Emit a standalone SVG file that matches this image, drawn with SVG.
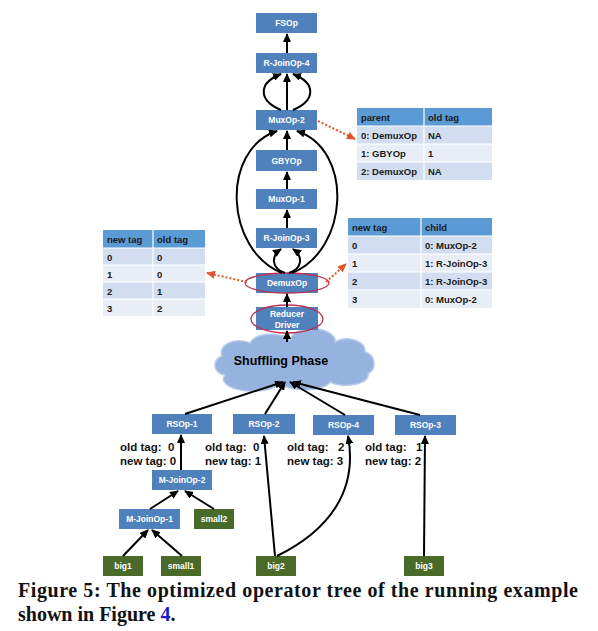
<svg xmlns="http://www.w3.org/2000/svg" width="598" height="631" viewBox="0 0 598 631">
<defs>
<marker id="arr" markerUnits="userSpaceOnUse" markerWidth="9" markerHeight="8" refX="8" refY="4" orient="auto"><path d="M0,0 L9,4 L0,8 z" fill="#000"/></marker>
<marker id="rarr" markerUnits="userSpaceOnUse" markerWidth="9" markerHeight="8" refX="8" refY="4" orient="auto"><path d="M0,0 L9,4 L0,8 z" fill="#e0542a"/></marker>
<style>
.b rect{fill:#4f81bd}
.g rect{fill:#4a6a2a}
.lbl{font-family:"Liberation Sans",Arial,sans-serif;font-weight:bold;font-size:8.5px;fill:#fff;text-anchor:middle}
.c path,.c line{fill:none;stroke:#000;stroke-width:2;marker-end:url(#arr)}
.r path,.r line{fill:none;stroke:#e0542a;stroke-width:2;stroke-dasharray:2,2;marker-end:url(#rarr)}
.hl{fill:none;stroke:#c0304f;stroke-width:1.3}
.tt{font-family:"Liberation Sans",Arial,sans-serif;font-weight:bold;font-size:9.5px;fill:#1a1a1a}
.th{fill:#5b9bd5}
.r1{fill:#d2deef}
.r2{fill:#e9eef6}
.tl{stroke:#fff;stroke-width:1.2}
.tag{font-family:"Liberation Sans",Arial,sans-serif;font-weight:bold;font-size:11.5px;fill:#111;white-space:pre}
.cap{font-family:"Liberation Serif","Times New Roman",serif;font-weight:bold;font-size:20px;fill:#111}
</style>
</defs>
<rect width="598" height="631" fill="#fff"/>

<!-- cloud -->
<g id="shuffle">
<path d="M225,375 A12,10 0 0 1 222,356 A18,12 0 0 1 250,343 A22,12 0 0 1 290,340 A22,12 0 0 1 335,342 A18,12 0 0 1 365,352 A12,12 0 0 1 368,374 A22,10 0 0 1 330,382 A26,10 0 0 1 280,383 A24,10 0 0 1 225,375 Z" fill="#95b3de" stroke="#b7cbe9" stroke-width="1.5"/>
<text x="281" y="365" font-family="Liberation Sans,Arial,sans-serif" font-weight="bold" font-size="12.5" fill="#000" text-anchor="middle">Shuffling Phase</text>
</g>

<!-- tables -->
<g id="table-mux">
<rect x="357" y="108" width="135" height="18" class="th"/>
<rect x="357" y="126" width="135" height="18" class="r1"/>
<rect x="357" y="144" width="135" height="18" class="r2"/>
<rect x="357" y="162" width="135" height="18" class="r1"/>
<line x1="424" y1="108" x2="424" y2="180" class="tl"/>
<line x1="357" y1="126" x2="492" y2="126" class="tl"/>
<line x1="357" y1="144" x2="492" y2="144" class="tl"/>
<line x1="357" y1="162" x2="492" y2="162" class="tl"/>
<text class="tt" x="361" y="121">parent</text><text class="tt" x="428" y="121">old tag</text>
<text class="tt" x="361" y="139">0: DemuxOp</text><text class="tt" x="428" y="139">NA</text>
<text class="tt" x="361" y="157">1: GBYOp</text><text class="tt" x="428" y="157">1</text>
<text class="tt" x="361" y="175">2: DemuxOp</text><text class="tt" x="428" y="175">NA</text>
</g>

<g id="table-child">
<rect x="348" y="218" width="144" height="18" class="th"/>
<rect x="348" y="236" width="144" height="18" class="r1"/>
<rect x="348" y="254" width="144" height="18" class="r2"/>
<rect x="348" y="272" width="144" height="18" class="r1"/>
<rect x="348" y="290" width="144" height="18" class="r2"/>
<line x1="421" y1="218" x2="421" y2="308" class="tl"/>
<line x1="348" y1="236" x2="492" y2="236" class="tl"/>
<line x1="348" y1="254" x2="492" y2="254" class="tl"/>
<line x1="348" y1="272" x2="492" y2="272" class="tl"/>
<line x1="348" y1="290" x2="492" y2="290" class="tl"/>
<text class="tt" x="352" y="231">new tag</text><text class="tt" x="425" y="231">child</text>
<text class="tt" x="352" y="249">0</text><text class="tt" x="425" y="249">0: MuxOp-2</text>
<text class="tt" x="352" y="267">1</text><text class="tt" x="425" y="267">1: R-JoinOp-3</text>
<text class="tt" x="352" y="285">2</text><text class="tt" x="425" y="285">1: R-JoinOp-3</text>
<text class="tt" x="352" y="303">3</text><text class="tt" x="425" y="303">0: MuxOp-2</text>
</g>

<g id="table-tag">
<rect x="103" y="230" width="102" height="18" class="th"/>
<rect x="103" y="248" width="102" height="17" class="r1"/>
<rect x="103" y="265" width="102" height="17" class="r2"/>
<rect x="103" y="282" width="102" height="17" class="r1"/>
<rect x="103" y="299" width="102" height="17" class="r2"/>
<line x1="153" y1="230" x2="153" y2="316" class="tl"/>
<line x1="103" y1="248" x2="205" y2="248" class="tl"/>
<line x1="103" y1="265" x2="205" y2="265" class="tl"/>
<line x1="103" y1="282" x2="205" y2="282" class="tl"/>
<line x1="103" y1="299" x2="205" y2="299" class="tl"/>
<text class="tt" x="107" y="243">new tag</text><text class="tt" x="157" y="243">old tag</text>
<text class="tt" x="107" y="261">0</text><text class="tt" x="157" y="261">0</text>
<text class="tt" x="107" y="278">1</text><text class="tt" x="157" y="278">0</text>
<text class="tt" x="107" y="295">2</text><text class="tt" x="157" y="295">1</text>
<text class="tt" x="107" y="312">3</text><text class="tt" x="157" y="312">2</text>
</g>

<!-- nodes -->
<g id="fsop" class="b"><rect x="256" y="13" width="61" height="20"/><text class="lbl" x="286.5" y="26">FSOp</text></g>
<g id="rjoin4" class="b"><rect x="256" y="53" width="61" height="20"/><text class="lbl" x="286.5" y="66">R-JoinOp-4</text></g>
<g id="mux2" class="b"><rect x="256" y="110" width="61" height="20"/><text class="lbl" x="286.5" y="123">MuxOp-2</text></g>
<g id="gby" class="b"><rect x="256" y="150" width="61" height="21"/><text class="lbl" x="286.5" y="163.5">GBYOp</text></g>
<g id="mux1" class="b"><rect x="256" y="189" width="61" height="20"/><text class="lbl" x="286.5" y="202">MuxOp-1</text></g>
<g id="rjoin3" class="b"><rect x="256" y="228" width="61" height="20"/><text class="lbl" x="286.5" y="241">R-JoinOp-3</text></g>
<g id="demux" class="b"><rect x="256" y="273" width="62" height="20"/><text class="lbl" x="287" y="286">DemuxOp</text><ellipse class="hl" cx="287" cy="283" rx="42" ry="10"/></g>
<g id="reducer" class="b"><rect x="256" y="307" width="62" height="23"/><text class="lbl" x="287" y="317">Reducer</text><text class="lbl" x="287" y="327.5">Driver</text><ellipse class="hl" cx="287" cy="319" rx="36" ry="14"/></g>
<g id="rsop1" class="b"><rect x="152" y="414" width="60" height="20"/><text class="lbl" x="182" y="427">RSOp-1</text></g>
<g id="rsop2" class="b"><rect x="233" y="414" width="62" height="20"/><text class="lbl" x="264" y="427">RSOp-2</text></g>
<g id="rsop4" class="b"><rect x="313" y="415" width="61" height="20"/><text class="lbl" x="343.5" y="428">RSOp-4</text></g>
<g id="rsop3" class="b"><rect x="395" y="415" width="61" height="20"/><text class="lbl" x="425.5" y="428">RSOp-3</text></g>
<g id="mjoin2" class="b"><rect x="152" y="470" width="60" height="20"/><text class="lbl" x="182" y="483">M-JoinOp-2</text></g>
<g id="mjoin1" class="b"><rect x="119" y="509" width="61" height="20"/><text class="lbl" x="149.5" y="522">M-JoinOp-1</text></g>
<g id="small2" class="g"><rect x="194" y="509" width="40" height="20"/><text class="lbl" x="214" y="522">small2</text></g>
<g id="big1" class="g"><rect x="103" y="556" width="40" height="20"/><text class="lbl" x="123" y="569">big1</text></g>
<g id="small1" class="g"><rect x="161" y="556" width="40" height="20"/><text class="lbl" x="181" y="569">small1</text></g>
<g id="big2" class="g"><rect x="256" y="556" width="40" height="20"/><text class="lbl" x="276" y="569">big2</text></g>
<g id="big3" class="g"><rect x="404" y="556" width="40" height="20"/><text class="lbl" x="424" y="569">big3</text></g>

<!-- tag labels -->
<g id="tags">
<text class="tag" x="120" y="451">old tag:  0</text><text class="tag" x="120" y="465">new tag: 0</text>
<text class="tag" x="205" y="451">old tag:  0</text><text class="tag" x="205" y="465">new tag: 1</text>
<text class="tag" x="287" y="451">old tag:   2</text><text class="tag" x="287" y="465">new tag: 3</text>
<text class="tag" x="365" y="451">old tag:   1</text><text class="tag" x="365" y="465">new tag: 2</text>
</g>

<!-- connectors -->
<g id="connectors" class="c">
<line x1="287" y1="53" x2="287" y2="34"/>
<line x1="287" y1="110" x2="287" y2="74"/>
<path d="M281,110 C258,100 258,83 281,74"/>
<path d="M293,110 C316,100 316,83 293,74"/>
<line x1="287" y1="150" x2="287" y2="131"/>
<line x1="287" y1="189" x2="287" y2="172"/>
<line x1="287" y1="228" x2="287" y2="210"/>
<path d="M285,273 C271,268 271,256 281,249"/>
<path d="M289,273 C303,268 303,256 293,249"/>
<path d="M282,273 C225,250 220,150 277,131"/>
<path d="M292,273 C349,250 354,150 297,131"/>
<line x1="287" y1="307" x2="287" y2="294"/>
<line x1="287" y1="342" x2="287" y2="331"/>
<line x1="185" y1="414" x2="283" y2="382"/>
<line x1="265" y1="414" x2="285" y2="382"/>
<line x1="345" y1="415" x2="290" y2="382"/>
<line x1="420" y1="415" x2="293" y2="382"/>
<line x1="181" y1="470" x2="181" y2="435"/>
<line x1="150" y1="509" x2="178" y2="491"/>
<line x1="214" y1="509" x2="185" y2="491"/>
<line x1="123" y1="556" x2="148" y2="530"/>
<line x1="182" y1="556" x2="152" y2="530"/>
<line x1="275" y1="556" x2="264" y2="436"/>
<path d="M277,556 C330,530 358,490 348,436"/>
<line x1="424" y1="556" x2="425" y2="436"/>
</g>
<g id="ref-connectors" class="r">
<line x1="318" y1="121" x2="355" y2="139"/>
<line x1="326" y1="282" x2="346" y2="264"/>
<line x1="247" y1="282" x2="207" y2="273"/>
</g>

<!-- caption -->
<text class="cap" x="18" y="597" textLength="560" lengthAdjust="spacing">Figure 5: The optimized operator tree of the running example</text>
<text class="cap" x="18" y="621">shown in Figure <tspan fill="#1a1acc">4</tspan>.</text>
</svg>
